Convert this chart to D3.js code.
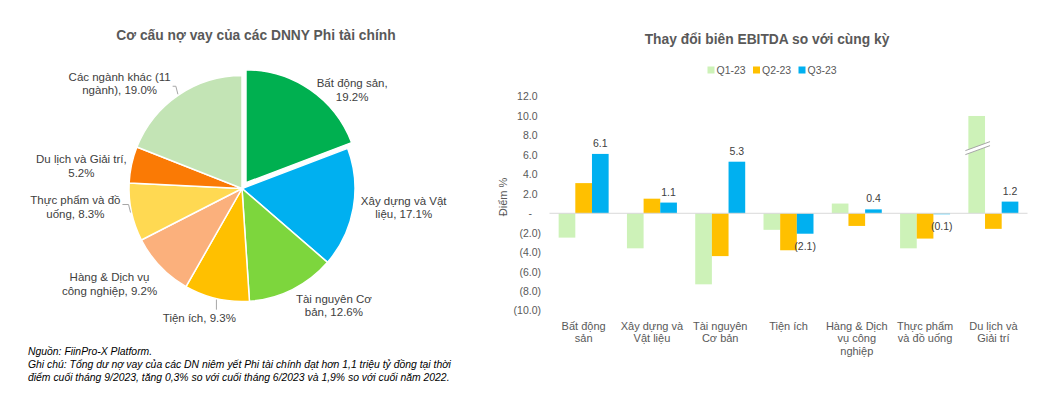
<!DOCTYPE html>
<html>
<head>
<meta charset="utf-8">
<script src="https://cdn.jsdelivr.net/npm/d3@7"></script>
<style>
body{margin:0;background:#fff;}
svg{display:block;font-family:"Liberation Sans",Arial,sans-serif;}
</style>
</head>
<body>
<svg id="chart" width="1052" height="395"></svg>
<script>
// ---- pie: debt structure ----
const pieNames = ["Bất động sản", "Xây dựng và Vật liệu", "Tài nguyên Cơ bản", "Tiện ích",
	"Hàng & Dịch vụ công nghiệp", "Thực phẩm và đồ uống", "Du lịch và Giải trí", "Các ngành khác (11 ngành)"];
const pieValues = [19.2, 17.1, 12.6, 9.3, 9.2, 8.3, 5.2, 19.0];
const pieColors = ["#00B050", "#00B0F0", "#7DD63D", "#FFC000", "#FBB07C", "#FFD952", "#FA7A05", "#C3E4B5"];
const pieWrapWords = [3, 4, 3, 0, 4, 4, 5, 4];   // words on first line of each label

// ---- bars: EBITDA margin change ----
const barCategories = ["Bất động\nsản", "Xây dựng và\nVật liệu", "Tài nguyên\nCơ bản", "Tiện ích",
	"Hàng & Dịch\nvụ công\nnghiệp", "Thực phẩm\nvà đồ uống", "Du lịch và\nGiải trí"];
const seriesNames = ["Q1-23", "Q2-23", "Q3-23"];
const q1Values = [-2.5, -3.6, -7.3, -1.7, 1.0, -3.6, 15.0];   // last one is cut by the axis break
const q2Values = [3.1, 1.5, -4.4, -3.8, -1.3, -2.6, -1.6];
const q3Values = [6.1, 1.1, 5.3, -2.1, 0.4, -0.1, 1.2];
const seriesColors = ["#CDF2B8", "#FFC000", "#00B0F0"];
const yTicks = [12, 10, 8, 6, 4, 2, 0, -2, -4, -6, -8, -10];
const breakCap = 10;

const svg = d3.select("#chart");
svg.append("rect").attr("width", 1052).attr("height", 395).attr("fill", "#fff");

drawPie();
drawBars();
drawNotes();

function drawPie(){
	let cx = 242, cy = 188.5, r = 113,
		g = svg.append("g").attr("transform", "translate(" + cx + "," + cy + ")"),
		pie = d3.pie().sort(null).value(d => d),
		arcs = pie(pieValues),
		arc = d3.arc().innerRadius(0).outerRadius(r),
		labelArc = d3.arc().innerRadius(150).outerRadius(150),
		nudges = [[25, 25], [14, -7], [25, -17], [-9, -17], [-24, -8], [-20, -13], [-14, 9], [-38, 19]],
		leaders = [3, 5, 7];

	svg.append("text")
		.attr("x", 256).attr("y", 40)
		.attr("text-anchor", "middle")
		.attr("font-size", "13.8px").attr("font-weight", "bold").attr("fill", "#595959")
		.text("Cơ cấu nợ vay của các DNNY Phi tài chính");

	g.selectAll("path.slice")
		.data(arcs)
		.enter().append("path")
		.attr("class", "slice")
		.attr("d", arc)
		.attr("fill", (d, i) => pieColors[i])
		.attr("stroke", "#fff")
		.attr("stroke-width", 1.5)
		.attr("transform", (d, i) => {
			if(i !== 0) return null;
			let mid = (d.startAngle + d.endAngle) / 2;
			return "translate(" + (7 * Math.sin(mid)) + "," + (-7 * Math.cos(mid)) + ")";
		});

	arcs.forEach((d, i) => {
		let words = (pieNames[i] + ", " + pieValues[i].toFixed(1) + "%").split(" "),
			n = pieWrapWords[i],
			lines = n ? [words.slice(0, n).join(" "), words.slice(n).join(" ")] : [words.join(" ")],
			c = labelArc.centroid(d),
			lx = c[0] + nudges[i][0],
			ly = c[1] + nudges[i][1],
			lh = 13.4,
			t = g.append("text")
				.attr("text-anchor", "middle")
				.attr("font-size", "11.5px").attr("fill", "#404040");
		lines.forEach((s, k) => {
			t.append("tspan")
				.attr("x", lx)
				.attr("y", ly + (k - (lines.length - 1) / 2) * lh + 4)
				.text(s);
		});
		if(leaders.indexOf(i) < 0) return;
		let mid = (d.startAngle + d.endAngle) / 2,
			p0 = [(r + 1) * Math.sin(mid), -(r + 1) * Math.cos(mid)],
			bb = t.node().getBBox(),
			pts;
		if(bb.y > p0[1]){
			pts = [p0, [p0[0], bb.y - 2]];
		} else {
			let p1 = [p0[0] - 2, p0[1] - 8];
			pts = [p0, p1, [bb.x + bb.width + 2, p1[1]]];
		}
		g.append("path")
			.attr("d", d3.line()(pts))
			.attr("fill", "none")
			.attr("stroke", "#A6A6A6")
			.attr("stroke-width", 1);
	});
}

function drawBars(){
	let data = barCategories.map((c, i) => ({cat: i, values: [q1Values[i], q2Values[i], q3Values[i]]})),
		x0 = d3.scaleBand().domain(d3.range(barCategories.length)).range([549.5, 1027.5])
			.paddingInner(0.268).paddingOuter(0.134),
		x1 = d3.scaleBand().domain(d3.range(seriesNames.length)).range([0, x0.bandwidth()]),
		y = d3.scaleLinear().domain([-10, 12]).range([310.6, 96.5]),
		g = svg.append("g");

	svg.append("text")
		.attr("x", 767).attr("y", 44)
		.attr("text-anchor", "middle")
		.attr("font-size", "13.8px").attr("font-weight", "bold").attr("fill", "#595959")
		.text("Thay đổi biên EBITDA so với cùng kỳ");

	// legend
	let legend = svg.append("g").attr("transform", "translate(707.5,70)");
	seriesNames.forEach((s, i) => {
		let item = legend.append("g").attr("transform", "translate(" + (i * 45.5) + ",0)");
		item.append("rect").attr("x", 0).attr("y", -3.5).attr("width", 7).attr("height", 7)
			.attr("fill", seriesColors[i]);
		item.append("text").attr("x", 9).attr("y", 3.8)
			.attr("font-size", "10.5px").attr("fill", "#595959").text(s);
	});

	// y axis
	let fmt = v => v === 0 ? "-" : (v < 0 ? "(" + Math.abs(v).toFixed(1) + ")" : v.toFixed(1)),
		yAxis = g.append("g").attr("class", "yAxis")
			.attr("transform", "translate(541,0)")
			.call(d3.axisLeft(y).tickValues(yTicks).tickSize(0).tickPadding(0).tickFormat(fmt));
	yAxis.select(".domain").remove();
	yAxis.selectAll("text")
		.attr("font-family", "Liberation Sans, Arial, sans-serif")
		.attr("font-size", "10.5px").attr("fill", "#595959")
		.attr("dx", d => d === 0 ? -9 : (d > 0 ? -3.5 : 0));

	svg.append("text")
		.attr("transform", "translate(507,197) rotate(-90)")
		.attr("text-anchor", "middle")
		.attr("font-size", "11px").attr("fill", "#595959")
		.text("Điểm %");

	// bars
	let groups = g.selectAll("g.group")
		.data(data)
		.enter().append("g")
		.attr("class", "group")
		.attr("transform", d => "translate(" + x0(d.cat) + ",0)");

	groups.selectAll("rect")
		.data(d => d.values.map((v, s) => ({v: v, s: s})))
		.enter().append("rect")
		.attr("x", d => x1(d.s))
		.attr("width", x1.bandwidth())
		.attr("y", d => y(Math.max(0, Math.min(d.v, breakCap))))
		.attr("height", d => Math.abs(y(Math.min(d.v, breakCap)) - y(0)))
		.attr("fill", d => seriesColors[d.s]);

	// break marks on clipped bars
	groups.each(function(d){
		let grp = d3.select(this);
		d.values.forEach((v, s) => {
			if(v <= breakCap) return;
			let bx = x1(s), bw = x1.bandwidth(),
				top = y(breakCap),
				by = top + 0.31 * (y(0) - top),
				x0b = bx - 3, x1b = bx + bw + 5, rise = 9, gap = 4,
				band = [[x0b, by + rise / 2], [x1b, by - rise / 2], [x1b, by - rise / 2 + gap], [x0b, by + rise / 2 + gap]];
			grp.append("path").attr("d", d3.line()(band) + "Z").attr("fill", "#fff");
			[0, gap].forEach(o => {
				grp.append("path")
					.attr("d", d3.line()([[x0b, by + rise / 2 + o], [x1b, by - rise / 2 + o]]))
					.attr("stroke", "#A6A6A6").attr("stroke-width", 1);
			});
		});
	});

	// zero line
	g.append("line")
		.attr("x1", x0.range()[0]).attr("x2", x0.range()[1])
		.attr("y1", y(0)).attr("y2", y(0))
		.attr("stroke", "#D9D9D9").attr("stroke-width", 1);

	// Q3 data labels
	groups.append("text")
		.attr("x", x1(2) + x1.bandwidth() / 2)
		.attr("y", d => d.values[2] >= 0 ? y(d.values[2]) - 7 : y(d.values[2]) + 16)
		.attr("text-anchor", "middle")
		.attr("font-size", "10.5px").attr("fill", "#404040")
		.text(d => fmt(d.values[2]));

	// category labels
	groups.append("text")
		.attr("text-anchor", "middle")
		.attr("font-size", "11px").attr("fill", "#595959")
		.each(function(d){
			let t = d3.select(this);
			barCategories[d.cat].split("\n").forEach((s, k) => {
				t.append("tspan").attr("x", x0.bandwidth() / 2).attr("y", 329.5 + k * 12.8).text(s);
			});
		});
}

function drawNotes(){
	let notes = ["Nguồn: FiinPro-X Platform.",
		"Ghi chú: Tổng dư nợ vay của các DN niêm yết Phi tài chính đạt hơn 1,1 triệu tỷ đồng tại thời",
		"điểm cuối tháng 9/2023, tăng 0,3% so với cuối tháng 6/2023 và 1,9% so với cuối năm 2022."];
	svg.append("g").selectAll("text")
		.data(notes)
		.enter().append("text")
		.attr("x", 28)
		.attr("y", (d, i) => 355.3 + i * 12.6)
		.attr("font-size", "10.4px").attr("font-style", "italic").attr("fill", "#000")
		.text(d => d);
}
</script>
</body>
</html>
